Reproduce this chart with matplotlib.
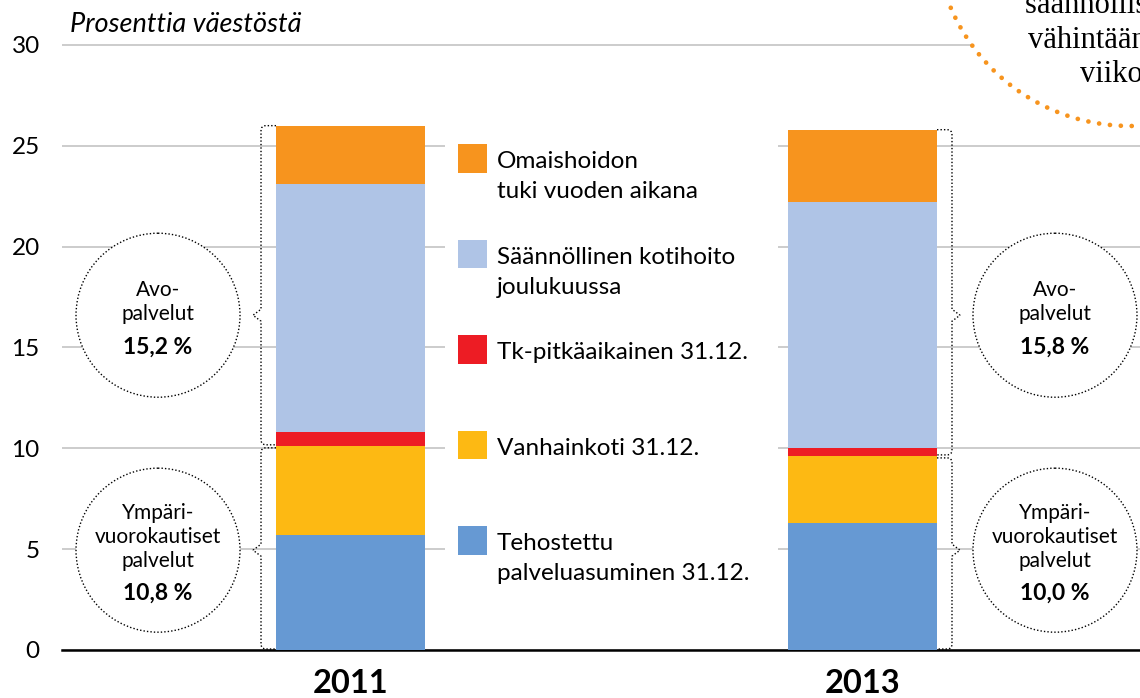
import numpy as np
import matplotlib.pyplot as plt
from matplotlib.patches import Circle, Rectangle, PathPatch
from matplotlib.path import Path

# data (percent of population)
years = ['2011', '2013']
tehostettu = [5.7, 6.3]
vanhainkoti = [4.4, 3.3]
tk_pitka = [0.7, 0.4]
kotihoito = [12.3, 12.2]
omaishoito = [2.9, 3.6]
series_labels = ['Tehostettu\npalveluasuminen 31.12.', 'Vanhainkoti 31.12.',
                 'Tk-pitkäaikainen 31.12.', 'Säännöllinen kotihoito\njoulukuussa',
                 'Omaishoidon\ntuki vuoden aikana']
colors = ['#6699D3', '#FDB913', '#ED1C24', '#AFC4E6', '#F7941E']
avo_totals = ['15,2 %', '15,8 %']
ymp_totals = ['10,8 %', '10,0 %']

W, H = 1140, 698
plt.rcParams['font.family'] = ['Lato', 'DejaVu Sans']

fig = plt.figure(figsize=(W / 100, H / 100), dpi=100)
ax = fig.add_axes([62 / W, 48 / H, 1 - 62 / W, 650 / H])
ax.set_xlim(-0.5635, 1.542)
ax.set_ylim(0, 650 / 20.167)

x = np.arange(len(years))
width = 0.291
values = [tehostettu, vanhainkoti, tk_pitka, kotihoito, omaishoito]
bottom = np.zeros(len(years))
cums = []
for vals, col in zip(values, colors):
    ax.bar(x, vals, width, bottom=bottom, color=col, linewidth=0, zorder=3)
    bottom = bottom + np.array(vals)
    cums.append(bottom.copy())

ax.set_yticks(range(0, 31, 5))
ax.grid(axis='y', color='#C8C8C8', linewidth=1.3)
ax.set_axisbelow(True)
for s in ['top', 'left', 'right']:
    ax.spines[s].set_visible(False)
ax.spines['bottom'].set_color('black')
ax.spines['bottom'].set_linewidth(1.8)
ax.set_xticks(x)
ax.set_xticklabels(years, fontsize=23.5, fontweight='bold')
ax.tick_params(axis='x', length=0, pad=14)
ax.tick_params(axis='y', length=0, pad=16, labelsize=17.5)

# overlay in pixel coordinates for annotations
ov = fig.add_axes([0, 0, 1, 1], zorder=5)
ov.set_xlim(0, W)
ov.set_ylim(H, 0)
ov.set_axis_off()


def to_px(xd, yd):
    d = ax.transData.transform((xd, yd))
    return d[0], H - d[1]


ov.text(70, 32, 'Prosenttia väestöstä', fontsize=19.5, style='italic',
        va='baseline', ha='left')

# legend
ov.add_patch(Rectangle((445, 132), 333, 465, facecolor='white', edgecolor='none'))
for i, k in enumerate(range(len(series_labels) - 1, -1, -1)):
    base = 168 + i * 95.6
    ov.add_patch(Rectangle((458, base - 24), 28.7, 28.7, facecolor=colors[k],
                           edgecolor='none'))
    for j, line in enumerate(series_labels[k].split('\n')):
        ov.text(497, base + j * 30, line, fontsize=17.5, va='baseline', ha='left')


def brace(xe, y0, y1, ytip, side):
    xl = xe + side * 15
    xt = xl + side * 8
    r = 5
    verts = [(xe, y0), (xl - side * r, y0), (xl, y0), (xl, y0 + r),
             (xl, ytip - 6), (xt, ytip), (xl, ytip + 6), (xl, y1 - r),
             (xl, y1), (xl - side * r, y1), (xe, y1)]
    codes = [Path.MOVETO, Path.LINETO, Path.CURVE3, Path.CURVE3, Path.LINETO,
             Path.LINETO, Path.LINETO, Path.LINETO, Path.CURVE3, Path.CURVE3,
             Path.LINETO]
    ov.add_patch(PathPatch(Path(verts, codes), facecolor='none', edgecolor='black',
                           linewidth=1.0, linestyle=(0, (1, 1.5))))


def bubble(cx, cy, name, total):
    ov.add_patch(Circle((cx, cy), 82, facecolor='white', edgecolor='black',
                        linewidth=1.0, linestyle=(0, (1, 1.5))))
    lines = name.split('\n')
    span = (len(lines) - 1) * 24 + 33
    first = cy - span / 2 + 9.5
    for j, line in enumerate(lines):
        ov.text(cx, first + j * 24, line, fontsize=15, ha='center', va='baseline')
    ov.text(cx, first + (len(lines) - 1) * 24 + 33, total, fontsize=16.5,
            fontweight='bold', ha='center', va='baseline')


for i in range(len(years)):
    side = -1 if i == 0 else 1
    xe, ytop = to_px(x[i] + side * width / 2, cums[4][i])
    _, ysplit = to_px(x[i], cums[1][i])
    _, y0 = to_px(x[i], 0)
    _, avo_cy = to_px(x[i], 16.6)
    _, ymp_cy = to_px(x[i], 4.95)
    cx = xe + side * 118
    brace(xe, ytop, ysplit - 1.5, avo_cy, side)
    brace(xe, ysplit + 1.5, y0 - 1, ymp_cy, side)
    bubble(cx, avo_cy, 'Avo-\npalvelut', avo_totals[i])
    bubble(cx, ymp_cy, 'Ympäri-\nvuorokautiset\npalvelut', ymp_totals[i])

# orange dotted callout in the top-right corner
ov.add_patch(Circle((1130, -69), 195, facecolor='white', edgecolor='#F7941E',
                    linewidth=3.4, linestyle=(0, (0.01, 2.3)), capstyle='round'))
for j, line in enumerate(['säännöllistä apua', 'vähintään kerran', 'viikossa']):
    ov.text(1130, 13 + j * 34.5, line, fontsize=22, family='Liberation Serif',
            ha='center', va='baseline')

fig.savefig('out.png', dpi=100)
